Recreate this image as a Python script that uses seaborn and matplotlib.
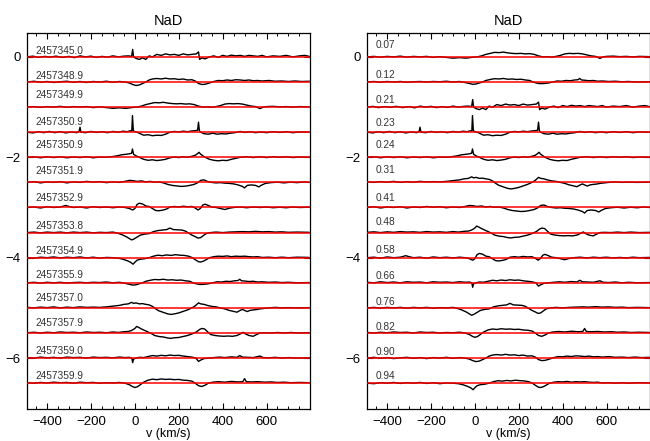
import numpy as np
import pandas as pd
import matplotlib
matplotlib.use("Agg")
import matplotlib.pyplot as plt
import seaborn as sns
from matplotlib.ticker import MultipleLocator

# ---------------- data (velocity km/s, flux deviation from continuum) -------------
JD_LABELS = ["2457345.0", "2457348.9", "2457349.9", "2457350.9", "2457350.9",
             "2457351.9", "2457352.9", "2457353.8", "2457354.9", "2457355.9",
             "2457357.0", "2457357.9", "2457359.0", "2457359.9"]
PHASES = [0.21, 0.90, 0.07, 0.23, 0.24, 0.41, 0.58, 0.76, 0.94, 0.12,
          0.31, 0.48, 0.66, 0.82]
ROW_STEP = 0.5

S_2457345_0 = [(-490,0.0),(-465,0.015),(-440,-0.01),(-410,0.01),(-385,-0.005),(-360,0.015),(-330,-0.01),
    (-300,0.01),(-275,-0.015),(-250,0.02),(-225,0.0),(-200,0.015),(-175,-0.01),(-150,0.01),(-125,-0.005),
    (-100,0.02),(-75,0.0),(-50,0.015),(-30,0.02),(-15,0.01),(-10,0.15),(-6,0.0),(5,-0.03),(20,-0.05),
    (35,-0.02),(50,-0.05),(65,0.02),(80,0.0),(100,0.05),(120,0.03),(140,0.06),(160,0.04),(180,0.05),
    (200,0.03),(220,0.06),(240,0.04),(260,0.05),(280,0.06),(290,0.1),(295,-0.05),(305,-0.02),(320,-0.04),
    (340,0.0),(360,0.02),(380,-0.01),(400,0.03),(420,0.01),(440,0.035),(460,0.02),(480,0.03),(500,0.01),
    (520,0.03),(540,0.02),(560,0.01),(580,0.03),(600,0.0),(630,0.02),(660,0.01),(690,0.03),(720,0.0),
    (750,0.02),(775,0.03),(795,0.01)]
S_2457348_9 = [(-490,0.0),(-460,0.015),(-430,-0.005),(-400,0.01),(-370,-0.01),(-340,0.005),(-310,0.015),
    (-280,-0.005),(-250,0.01),(-220,-0.01),(-190,0.01),(-160,0.0),(-130,0.015),(-100,-0.005),(-70,0.01),
    (-45,0.0),(-25,-0.02),(-10,-0.05),(5,-0.07),(20,-0.06),(35,-0.03),(50,0.0),(65,0.04),(80,0.06),
    (100,0.07),(120,0.06),(140,0.075),(160,0.06),(180,0.065),(200,0.05),(220,0.06),(240,0.04),(260,0.045),
    (275,0.02),(290,-0.03),(305,-0.05),(320,-0.045),(340,-0.02),(360,0.01),(380,0.03),(400,0.025),
    (420,0.04),(440,0.03),(460,0.045),(480,0.04),(500,0.03),(520,0.04),(540,0.025),(560,0.03),(580,0.02),
    (610,0.03),(640,0.015),(670,0.02),(700,0.01),(730,0.02),(760,0.01),(795,0.015)]
S_2457349_9 = [(-490,0.0),(-460,0.01),(-430,-0.005),(-400,0.01),(-370,0.0),(-340,0.015),(-310,-0.005),
    (-280,0.01),(-250,0.0),(-220,0.01),(-190,-0.01),(-160,0.005),(-130,-0.01),(-100,-0.025),(-70,-0.015),
    (-40,-0.025),(-15,-0.01),(10,0.0),(30,0.02),(50,0.05),(70,0.07),(90,0.09),(110,0.085),(130,0.095),
    (150,0.08),(170,0.07),(190,0.065),(210,0.07),(230,0.06),(250,0.065),(270,0.05),(290,0.02),(310,0.0),
    (330,0.005),(350,-0.005),(370,0.01),(390,0.03),(410,0.06),(430,0.07),(450,0.065),(470,0.07),
    (490,0.06),(510,0.04),(530,0.02),(550,0.01),(570,-0.03),(585,0.0),(600,0.01),(630,0.015),(660,0.005),
    (690,0.01),(720,0.0),(750,0.01),(795,0.005)]
S_2457350_9a = [(-490,0.0),(-465,-0.015),(-440,0.01),(-415,-0.01),(-390,0.015),(-365,-0.01),(-340,0.01),
    (-315,-0.015),(-290,0.005),(-265,-0.01),(-254,0.02),(-250,0.1),(-246,0.0),(-225,-0.01),(-200,0.015),
    (-175,-0.005),(-150,0.01),(-125,-0.01),(-100,0.015),(-75,0.0),(-55,0.02),(-35,0.01),(-20,0.03),
    (-14,0.02),(-11,0.33),(-7,0.03),(0,0.01),(10,0.0),(25,-0.03),(40,-0.06),(60,-0.05),(80,-0.07),
    (100,-0.06),(120,-0.065),(140,-0.04),(160,0.0),(180,0.015),(200,0.005),(220,0.02),(240,0.01),
    (260,0.025),(275,0.03),(286,0.04),(290,0.2),(294,0.03),(300,0.0),(315,-0.03),(335,-0.04),(355,-0.02),
    (375,-0.04),(395,-0.03),(415,-0.035),(435,-0.02),(455,-0.01),(480,0.015),(500,-0.005),(525,0.01),
    (550,-0.01),(575,0.005),(600,-0.01),(630,0.01),(660,-0.005),(690,0.01),(720,-0.01),(750,0.005),(795,0.0)]
S_2457350_9b = [(-490,0.0),(-460,0.01),(-430,-0.01),(-400,0.01),(-370,-0.005),(-340,0.01),(-310,-0.01),
    (-280,0.005),(-250,-0.005),(-220,0.01),(-190,-0.01),(-160,0.005),(-130,0.0),(-100,0.015),(-80,0.03),
    (-60,0.05),(-40,0.06),(-25,0.07),(-15,0.08),(-11,0.165),(-6,0.06),(5,0.03),(20,0.0),(40,-0.04),
    (60,-0.06),(80,-0.05),(100,-0.065),(120,-0.055),(140,-0.04),(160,-0.01),(180,0.005),(200,-0.005),
    (220,0.01),(240,0.0),(260,0.02),(275,0.04),(285,0.07),(292,0.1),(300,0.06),(310,0.03),(320,0.0),
    (340,-0.04),(360,-0.06),(380,-0.07),(400,-0.06),(420,-0.065),(440,-0.04),(460,-0.02),(480,0.0),
    (510,0.01),(540,-0.005),(570,0.01),(600,-0.005),(630,0.01),(660,0.0),(690,0.01),(720,-0.005),
    (750,0.005),(795,0.0)]
S_2457351_9 = [(-490,0.0),(-460,0.015),(-430,-0.01),(-400,0.01),(-370,0.0),(-340,0.015),(-310,-0.01),
    (-280,0.01),(-250,0.0),(-220,0.02),(-190,0.005),(-160,0.015),(-130,-0.005),(-100,0.01),(-70,0.0),
    (-45,0.02),(-25,0.04),(-10,0.035),(10,0.02),(30,0.03),(50,0.01),(70,0.02),(90,0.005),(110,0.01),
    (130,-0.01),(150,-0.04),(170,-0.06),(190,-0.07),(210,-0.08),(230,-0.075),(250,-0.06),(270,-0.04),
    (285,-0.01),(300,0.04),(315,0.05),(330,0.02),(350,0.0),(370,-0.01),(390,-0.005),(410,-0.015),
    (430,-0.02),(450,-0.03),(470,-0.05),(490,-0.08),(500,-0.11),(512,-0.06),(530,-0.05),(550,-0.06),
    (565,-0.09),(575,-0.06),(595,-0.02),(620,-0.005),(650,0.005),(680,-0.01),(710,0.005),(740,-0.005),
    (770,0.01),(795,0.0)]
S_2457352_9 = [(-490,0.0),(-460,0.01),(-430,-0.01),(-400,0.015),(-370,0.0),(-340,0.01),(-315,0.04),
    (-300,0.02),(-280,0.0),(-250,0.01),(-220,-0.01),(-190,0.015),(-160,0.0),(-130,0.01),(-100,-0.005),
    (-70,0.01),(-45,0.0),(-25,-0.02),(-10,-0.05),(0,-0.02),(10,0.06),(20,0.085),(35,0.07),(50,0.03),
    (65,0.02),(80,-0.02),(95,-0.06),(110,-0.065),(130,-0.05),(145,-0.03),(160,0.01),(180,0.02),(200,0.01),
    (220,0.025),(240,0.015),(260,0.02),(275,-0.01),(288,-0.05),(298,-0.02),(310,0.05),(320,0.066),
    (335,0.04),(350,0.01),(370,0.0),(390,-0.02),(410,-0.04),(430,-0.015),(450,0.0),(480,0.01),(510,-0.005),
    (540,0.01),(570,0.0),(600,0.01),(630,-0.005),(660,0.005),(690,-0.005),(720,0.01),(750,0.0),(795,0.005)]
S_2457353_8 = [(-490,0.0),(-460,0.01),(-430,-0.005),(-400,0.01),(-370,0.0),(-340,0.01),(-310,-0.005),
    (-280,0.01),(-250,0.0),(-220,0.01),(-190,-0.005),(-160,0.005),(-130,0.0),(-100,0.01),(-80,-0.01),
    (-60,-0.04),(-40,-0.08),(-25,-0.12),(-15,-0.146),(-5,-0.13),(10,-0.09),(25,-0.05),(45,-0.03),
    (65,-0.02),(85,0.02),(105,0.04),(125,0.05),(145,0.06),(160,0.09),(175,0.06),(195,0.055),(215,0.05),
    (230,0.03),(245,-0.01),(260,-0.05),(275,-0.08),(288,-0.11),(300,-0.1),(312,-0.06),(325,-0.02),
    (345,0.0),(370,0.01),(400,0.0),(430,0.01),(460,0.015),(490,0.02),(520,0.015),(550,0.025),(580,0.015),
    (610,0.02),(640,0.01),(670,0.015),(700,0.005),(740,0.01),(795,0.005)]
S_2457354_9 = [(-490,0.0),(-460,-0.01),(-430,0.01),(-400,0.0),(-370,0.015),(-340,-0.005),(-310,0.01),
    (-280,0.0),(-250,0.015),(-220,-0.005),(-190,0.01),(-160,-0.01),(-130,0.005),(-100,0.0),(-75,-0.01),
    (-55,-0.03),(-35,-0.06),(-20,-0.09),(-8,-0.13),(0,-0.09),(10,-0.05),(25,-0.03),(45,-0.02),(65,0.0),
    (85,0.03),(105,0.05),(125,0.04),(145,0.055),(165,0.045),(185,0.06),(205,0.05),(225,0.045),(245,0.03),
    (262,0.0),(275,-0.04),(290,-0.08),(300,-0.086),(312,-0.07),(325,-0.04),(340,0.0),(360,0.02),
    (380,0.03),(400,0.025),(420,0.035),(440,0.02),(460,0.03),(480,0.025),(500,0.03),(520,0.02),
    (540,0.015),(560,0.02),(580,0.005),(610,0.01),(640,0.0),(670,0.01),(700,0.0),(740,0.01),(795,0.005)]
S_2457355_9 = [(-490,0.0),(-460,0.01),(-430,-0.005),(-400,0.01),(-370,0.0),(-340,0.01),(-310,-0.005),
    (-280,0.005),(-250,0.01),(-220,0.0),(-190,0.01),(-160,0.005),(-130,0.015),(-100,0.0),(-70,0.01),
    (-45,-0.01),(-25,-0.03),(-10,-0.046),(5,-0.04),(20,-0.02),(35,0.0),(50,0.03),(70,0.05),(90,0.066),
    (110,0.06),(130,0.07),(150,0.055),(170,0.06),(190,0.05),(210,0.055),(230,0.04),(250,0.03),(265,0.0),
    (280,-0.02),(295,-0.033),(315,-0.03),(335,-0.02),(355,0.0),(375,0.02),(395,0.015),(415,0.03),
    (435,0.025),(455,0.04),(470,0.045),(478,0.07),(486,0.04),(500,0.035),(520,0.025),(540,0.03),
    (560,0.015),(580,0.02),(610,0.01),(640,0.015),(670,0.005),(700,0.01),(740,0.0),(795,0.005)]
S_2457357_0 = [(-490,0.01),(-460,0.0),(-430,0.015),(-400,0.005),(-370,0.02),(-340,0.0),(-310,0.015),
    (-280,0.005),(-250,0.02),(-220,0.01),(-190,0.015),(-160,0.01),(-130,0.02),(-110,0.03),(-90,0.04),
    (-70,0.05),(-50,0.07),(-30,0.08),(-15,0.11),(-5,0.09),(5,0.1),(20,0.08),(35,0.085),(50,0.07),
    (65,0.06),(80,0.03),(95,-0.02),(110,-0.06),(130,-0.09),(150,-0.12),(165,-0.13),(180,-0.12),
    (200,-0.1),(220,-0.07),(240,-0.04),(260,0.0),(275,0.04),(290,0.1),(300,0.08),(315,0.07),(330,0.05),
    (350,0.03),(370,0.02),(390,0.0),(410,-0.02),(430,-0.05),(450,-0.07),(465,-0.086),(480,-0.05),
    (490,-0.03),(500,-0.05),(512,-0.073),(525,-0.05),(540,-0.04),(555,-0.033),(570,-0.02),(590,-0.01),
    (610,0.0),(640,0.01),(670,0.0),(700,0.005),(740,0.0),(795,0.005)]
S_2457357_9 = [(-490,0.005),(-460,0.015),(-430,0.0),(-400,0.015),(-370,0.005),(-340,0.02),(-310,0.01),
    (-280,0.015),(-250,0.005),(-220,0.02),(-190,0.01),(-160,0.015),(-130,0.005),(-100,0.02),(-75,0.01),
    (-50,0.025),(-30,0.03),(-15,0.05),(0,0.09),(8,0.13),(18,0.11),(30,0.08),(45,0.05),(60,0.02),
    (75,-0.01),(90,-0.05),(110,-0.07),(130,-0.08),(150,-0.1),(165,-0.106),(180,-0.095),(200,-0.09),
    (220,-0.07),(240,-0.05),(260,-0.02),(280,0.02),(295,0.07),(305,0.09),(318,0.08),(330,0.03),
    (345,-0.03),(365,-0.05),(385,-0.06),(405,-0.065),(425,-0.06),(445,-0.066),(465,-0.05),(480,-0.02),
    (494,0.013),(505,-0.02),(520,-0.05),(539,-0.066),(555,-0.03),(570,0.0),(590,0.005),(620,0.0),
    (650,0.01),(680,0.0),(710,0.01),(750,0.0),(795,0.005)]
S_2457359_0 = [(-490,0.01),(-460,0.0),(-430,0.02),(-400,0.005),(-370,0.015),(-340,0.0),(-310,0.02),
    (-280,0.01),(-250,0.015),(-220,0.0),(-190,0.02),(-160,0.01),(-130,0.015),(-100,0.005),(-70,0.02),
    (-45,0.01),(-25,0.015),(-14,0.0),(-10,-0.09),(-6,-0.02),(5,0.0),(20,0.015),(40,0.01),(60,0.03),
    (80,0.05),(100,0.04),(120,0.055),(140,0.045),(160,0.06),(180,0.05),(200,0.055),(220,0.04),(240,0.03),
    (260,0.02),(278,0.0),(290,-0.066),(300,-0.04),(315,-0.01),(335,0.0),(360,0.01),(385,0.02),(410,0.01),
    (440,0.025),(465,0.015),(478,0.05),(490,0.02),(515,0.015),(540,0.01),(570,0.04),(585,0.01),
    (610,0.005),(640,0.015),(670,0.0),(700,0.01),(740,0.0),(795,0.005)]
S_2457359_9 = [(-490,0.01),(-460,0.0),(-430,0.015),(-400,0.005),(-370,0.02),(-340,0.01),(-310,0.015),
    (-280,0.0),(-250,0.02),(-220,0.01),(-190,0.015),(-160,0.0),(-130,0.01),(-100,0.005),(-70,0.015),
    (-45,0.0),(-25,-0.03),(-10,-0.07),(0,-0.086),(12,-0.07),(25,-0.03),(40,0.02),(60,0.06),(80,0.08),
    (100,0.07),(120,0.085),(140,0.075),(160,0.08),(180,0.07),(200,0.075),(220,0.06),(240,0.055),
    (260,0.04),(275,0.0),(290,-0.05),(305,-0.066),(320,-0.04),(335,0.0),(355,0.02),(380,0.03),(410,0.02),
    (440,0.035),(470,0.025),(492,0.03),(500,0.09),(508,0.03),(530,0.025),(560,0.03),(590,0.02),
    (620,0.025),(650,0.015),(680,0.02),(710,0.01),(750,0.015),(795,0.01)]

SPECTRA = [S_2457345_0, S_2457348_9, S_2457349_9, S_2457350_9a, S_2457350_9b, S_2457351_9,
           S_2457352_9, S_2457353_8, S_2457354_9, S_2457355_9, S_2457357_0, S_2457357_9,
           S_2457359_0, S_2457359_9]

# ---------------- layout (label heights above each continuum line, in px) --------
LEFT_LABEL_LIFT_PX = [3.4, 2.7, 9.0, 7.6, 9.4, 8.7, 6.6, 3.3, 3.3, 4.4, 7.3, 7.3, 4.3, 4.0]
RIGHT_LABEL_LIFT_PX = [9.4, 4.4, 4.6, 6.6, 9.4, 9.4, 6.6, 7.3, 4.7, 3.7, 3.3, 3.3, 3.3, 4.0]

# ---------------- build frames ----------------
rows = []
for k, spec in enumerate(SPECTRA):
    for v, f in spec:
        rows.append({"spec": k, "v": v, "flux": f})
df = pd.DataFrame(rows)

left_pos = {k: k for k in range(len(SPECTRA))}
order = list(np.argsort(PHASES, kind="stable"))
right_pos = {int(k): r for r, k in enumerate(order)}

df_left = df.copy()
df_left["y"] = df_left["flux"] - ROW_STEP * df_left["spec"].map(left_pos)
df_right = df.copy()
df_right["y"] = df_right["flux"] - ROW_STEP * df_right["spec"].map(right_pos)

# ---------------- style ----------------
sns.set_style("ticks")
plt.rcParams["font.family"] = ["Liberation Sans", "DejaVu Sans"]
plt.rcParams["axes.linewidth"] = 0.9
plt.rcParams["text.color"] = "black"
plt.rcParams["axes.labelcolor"] = "black"
plt.rcParams["xtick.color"] = "black"
plt.rcParams["ytick.color"] = "black"
plt.rcParams["axes.edgecolor"] = "black"

fig = plt.figure(figsize=(6.5, 4.41), dpi=100)
ax_l = fig.add_axes([0.0411, 0.0719, 0.4354, 0.8526])
ax_r = fig.add_axes([0.5642, 0.0719, 0.4354, 0.8526])

PX_PER_UNIT = 50.43
for ax, d, labels, lifts, pos in [
    (ax_l, df_left, JD_LABELS, LEFT_LABEL_LIFT_PX, left_pos),
    (ax_r, df_right, [f"{p:.2f}" for p in PHASES], RIGHT_LABEL_LIFT_PX, right_pos),
]:
    sns.lineplot(data=d, x="v", y="y", units="spec", estimator=None, color="black",
                 lw=1.0, ax=ax, legend=False)
    n = len(SPECTRA)
    for r in range(n):
        ax.axhline(-ROW_STEP * r, color="#ff0000", lw=1.1, zorder=3)
    for k in range(n):
        r = pos[k]
        ax.text(-452, -ROW_STEP * r + lifts[r] / PX_PER_UNIT, labels[k],
                fontsize=7.3, color="#333333", ha="left", va="baseline")
    ax.set_xlim(-493, 797)
    ax.set_ylim(-7.02, 0.47)
    ax.set_title("NaD", fontsize=10.5, pad=6, color="black")
    ax.set_xlabel("v (km/s)", fontsize=9, labelpad=0.5)
    ax.set_ylabel("")
    ax.xaxis.set_major_locator(MultipleLocator(200))
    ax.xaxis.set_minor_locator(MultipleLocator(50))
    ax.yaxis.set_major_locator(MultipleLocator(2))
    ax.tick_params(axis="both", which="major", direction="in", length=4.5, width=0.8,
                   top=True, right=True, labelsize=9.5, pad=4.5, colors="black")
    ax.tick_params(axis="x", which="minor", direction="in", length=2.2, width=0.7,
                   top=True, bottom=True, colors="black")
    for s in ax.spines.values():
        s.set_visible(True)
        s.set_color("black")
        s.set_linewidth(0.9)

fig.savefig("out.png", dpi=100)
